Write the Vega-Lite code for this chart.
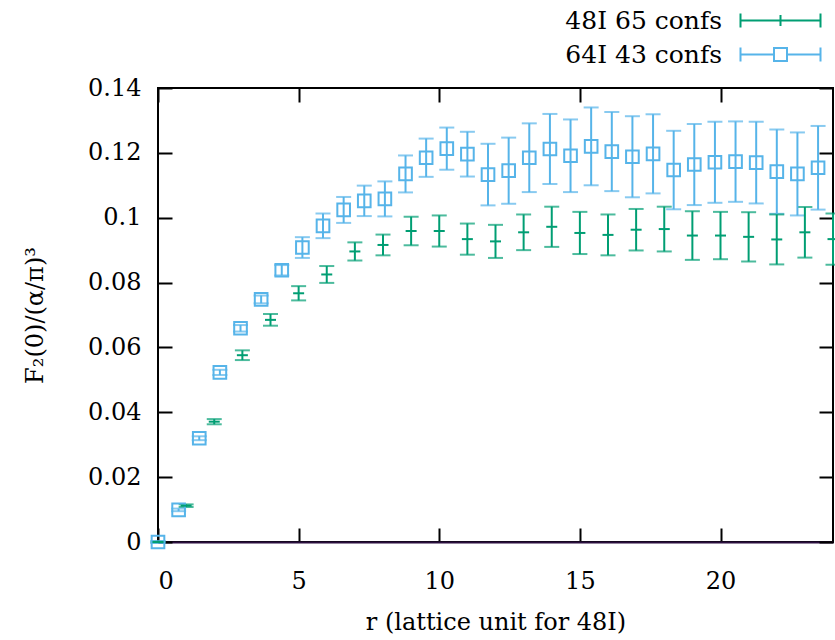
{
  "$schema": "https://vega.github.io/schema/vega-lite/v6.json",
  "width": 675,
  "height": 454,
  "autosize": {"type": "none"},
  "padding": {"left": 158, "top": 88, "right": 2, "bottom": 98},
  "background": "white",
  "config": {
    "font": "DejaVu Serif",
    "view": {"stroke": "black", "strokeWidth": 2},
    "axis": {
      "grid": false,
      "labelFont": "DejaVu Serif",
      "titleFont": "DejaVu Serif",
      "labelFontSize": 24,
      "labelColor": "black",
      "titleFontSize": 24,
      "titleFontWeight": "normal",
      "titleColor": "black",
      "tickColor": "black",
      "tickWidth": 2,
      "tickSize": -14,
      "domain": false
    }
  },
  "data": {
    "values": [
      {"series": "48I 65 confs", "r": 0, "y": 0.0, "err": 0.0002},
      {"series": "48I 65 confs", "r": 1, "y": 0.0112, "err": 0.0004},
      {"series": "48I 65 confs", "r": 2, "y": 0.0371, "err": 0.0008},
      {"series": "48I 65 confs", "r": 3, "y": 0.0576, "err": 0.0015},
      {"series": "48I 65 confs", "r": 4, "y": 0.0685, "err": 0.0018},
      {"series": "48I 65 confs", "r": 5, "y": 0.0767, "err": 0.0022},
      {"series": "48I 65 confs", "r": 6, "y": 0.0825, "err": 0.0026},
      {"series": "48I 65 confs", "r": 7, "y": 0.0896, "err": 0.0028},
      {"series": "48I 65 confs", "r": 8, "y": 0.0916, "err": 0.0032},
      {"series": "48I 65 confs", "r": 9, "y": 0.0959, "err": 0.0044},
      {"series": "48I 65 confs", "r": 10, "y": 0.0959, "err": 0.0048},
      {"series": "48I 65 confs", "r": 11, "y": 0.0934, "err": 0.0048},
      {"series": "48I 65 confs", "r": 12, "y": 0.0927, "err": 0.0051},
      {"series": "48I 65 confs", "r": 13, "y": 0.0955, "err": 0.0055},
      {"series": "48I 65 confs", "r": 14, "y": 0.0972, "err": 0.0062},
      {"series": "48I 65 confs", "r": 15, "y": 0.0953, "err": 0.0065},
      {"series": "48I 65 confs", "r": 16, "y": 0.0947, "err": 0.0063},
      {"series": "48I 65 confs", "r": 17, "y": 0.0963, "err": 0.0064},
      {"series": "48I 65 confs", "r": 18, "y": 0.0965, "err": 0.0069},
      {"series": "48I 65 confs", "r": 19, "y": 0.0945, "err": 0.0075},
      {"series": "48I 65 confs", "r": 20, "y": 0.0945, "err": 0.0073},
      {"series": "48I 65 confs", "r": 21, "y": 0.0941, "err": 0.0076},
      {"series": "48I 65 confs", "r": 22, "y": 0.0933, "err": 0.0077},
      {"series": "48I 65 confs", "r": 23, "y": 0.0955, "err": 0.0078},
      {"series": "48I 65 confs", "r": 24, "y": 0.0934, "err": 0.0079},
      {"series": "64I 43 confs", "r": 0, "y": 0.0, "err": 0.0003},
      {"series": "64I 43 confs", "r": 0.733, "y": 0.0099, "err": 0.0004},
      {"series": "64I 43 confs", "r": 1.467, "y": 0.032, "err": 0.0006},
      {"series": "64I 43 confs", "r": 2.2, "y": 0.0523, "err": 0.0008},
      {"series": "64I 43 confs", "r": 2.934, "y": 0.0659, "err": 0.001},
      {"series": "64I 43 confs", "r": 3.667, "y": 0.0748, "err": 0.0012},
      {"series": "64I 43 confs", "r": 4.4, "y": 0.0838, "err": 0.0016},
      {"series": "64I 43 confs", "r": 5.134, "y": 0.0908, "err": 0.0032},
      {"series": "64I 43 confs", "r": 5.867, "y": 0.0975, "err": 0.0038},
      {"series": "64I 43 confs", "r": 6.601, "y": 0.1024, "err": 0.004},
      {"series": "64I 43 confs", "r": 7.334, "y": 0.1052, "err": 0.0047},
      {"series": "64I 43 confs", "r": 8.067, "y": 0.1058, "err": 0.0054},
      {"series": "64I 43 confs", "r": 8.801, "y": 0.1135, "err": 0.0057},
      {"series": "64I 43 confs", "r": 9.534, "y": 0.1185, "err": 0.0059},
      {"series": "64I 43 confs", "r": 10.268, "y": 0.1213, "err": 0.0065},
      {"series": "64I 43 confs", "r": 11.001, "y": 0.1196, "err": 0.0069},
      {"series": "64I 43 confs", "r": 11.734, "y": 0.1133, "err": 0.0095},
      {"series": "64I 43 confs", "r": 12.468, "y": 0.1145, "err": 0.0102},
      {"series": "64I 43 confs", "r": 13.201, "y": 0.1185, "err": 0.0106},
      {"series": "64I 43 confs", "r": 13.935, "y": 0.1212, "err": 0.0108},
      {"series": "64I 43 confs", "r": 14.668, "y": 0.1191, "err": 0.0112},
      {"series": "64I 43 confs", "r": 15.401, "y": 0.122, "err": 0.012},
      {"series": "64I 43 confs", "r": 16.135, "y": 0.1204, "err": 0.0122},
      {"series": "64I 43 confs", "r": 16.868, "y": 0.1188, "err": 0.0125},
      {"series": "64I 43 confs", "r": 17.602, "y": 0.1197, "err": 0.0122},
      {"series": "64I 43 confs", "r": 18.335, "y": 0.1147, "err": 0.0121},
      {"series": "64I 43 confs", "r": 19.068, "y": 0.1164, "err": 0.0125},
      {"series": "64I 43 confs", "r": 19.802, "y": 0.1171, "err": 0.0125},
      {"series": "64I 43 confs", "r": 20.535, "y": 0.1173, "err": 0.0124},
      {"series": "64I 43 confs", "r": 21.269, "y": 0.117, "err": 0.0126},
      {"series": "64I 43 confs", "r": 22.002, "y": 0.1142, "err": 0.013},
      {"series": "64I 43 confs", "r": 22.735, "y": 0.1135, "err": 0.0128},
      {"series": "64I 43 confs", "r": 23.469, "y": 0.1154, "err": 0.0129}
    ]
  },
  "layer": [
    {
      "layer": [
        {
          "mark": {"type": "errorbar", "ticks": {"size": 15, "thickness": 2}, "rule": {"strokeWidth": 2}},
          "encoding": {
            "x": {
              "field": "r", "type": "quantitative",
              "scale": {"domain": [0, 24], "nice": false, "zero": false},
              "axis": {"orient": "bottom", "values": [0, 5, 10, 15, 20], "labelPadding": 41, "title": "r (lattice unit for 48I)", "titleX": 337.5, "titleY": 87, "titleBaseline": "alphabetic", "titleAnchor": "middle", "domain": true, "domainColor": "#2b0f3f", "domainWidth": 2}
            },
            "y": {
              "field": "y", "type": "quantitative",
              "scale": {"domain": [0, 0.14], "nice": false, "zero": false},
              "axis": {"orient": "left", "values": [0, 0.02, 0.04, 0.06, 0.08, 0.1, 0.12, 0.14], "format": ".2~f", "labelPadding": 31, "title": "F₂(0)/(α/π)³", "titleX": -116, "titleY": 227, "titleAngle": -90, "titleBaseline": "alphabetic", "titleAlign": "center"}
            },
            "yError": {"field": "err"},
            "color": {
              "field": "series", "type": "nominal",
              "scale": {"domain": ["48I 65 confs", "64I 43 confs"], "range": ["#009e73", "#56b4e9"]},
              "legend": {
                "orient": "none", "legendX": 610, "legendY": -80, "title": null,
                "padding": 0, "labelFontSize": 25, "labelFont": "DejaVu Serif", "labelColor": "black",
                "labelAlign": "right", "labelOffset": -71, "labelLimit": 0,
                "symbolSize": 400, "symbolStrokeWidth": 2, "rowPadding": 8,
                "symbolFillColor": "white",
                "encode": {
                  "symbols": {
                    "update": {
                      "shape": {"signal": "datum.value === '48I 65 confs' ? 'M-4,-0.7L-4,0.7M-4,0L4,0M4,-0.7L4,0.7M0,-0.55L0,0.55' : 'M-4,-0.7L-4,0.7M-4,0L-0.65,0M0.65,0L4,0M4,-0.7L4,0.7M-0.65,-0.65L0.65,-0.65L0.65,0.65L-0.65,0.65Z'"},
                      "fill": {"value": "white"},
                      "fillOpacity": {"value": 0},
                      "strokeWidth": {"value": 2}
                    }
                  }
                }
              }
            }
          }
        },
        {
          "transform": [{"filter": "datum.series === '64I 43 confs'"}],
          "mark": {"type": "point", "shape": "square", "size": 160, "filled": false, "strokeWidth": 2, "color": "#56b4e9", "opacity": 1},
          "encoding": {
            "x": {"field": "r", "type": "quantitative"},
            "y": {"field": "y", "type": "quantitative"}
          }
        },
        {
          "transform": [{"filter": "datum.series === '48I 65 confs'"}],
          "mark": {"type": "tick", "orient": "horizontal", "size": 11, "thickness": 2, "color": "#009e73", "opacity": 1},
          "encoding": {
            "x": {"field": "r", "type": "quantitative"},
            "y": {"field": "y", "type": "quantitative"}
          }
        }
      ]
    },
    {
      "mark": {"type": "point", "opacity": 0},
      "encoding": {
        "x": {"field": "r", "type": "quantitative", "axis": {"orient": "top", "labels": false, "title": null, "values": [0, 5, 10, 15, 20]}},
        "y": {"field": "y", "type": "quantitative", "axis": {"orient": "right", "labels": false, "title": null, "values": [0, 0.02, 0.04, 0.06, 0.08, 0.1, 0.12, 0.14]}}
      }
    }
  ],
  "resolve": {"axis": {"x": "independent", "y": "independent"}}
}
